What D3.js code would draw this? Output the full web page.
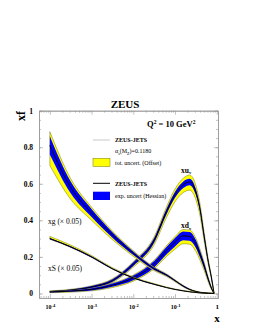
<!DOCTYPE html>
<html>
<head>
<meta charset="utf-8">
<script src="https://d3js.org/d3.v7.min.js"></script>
<style>
body { margin: 0; background: #fff; }
text { font-family: "Liberation Serif", "DejaVu Serif", serif; }
</style>
</head>
<body>
<script>
// x grid shared by all curves
var xs = [0.0001, 0.000316, 0.001, 0.00316, 0.01, 0.0316, 0.0631, 0.1, 0.158, 0.224, 0.316, 0.398, 0.501, 0.631, 0.741, 0.861];

// xu_v
var xuvMid   = [0.010, 0.018, 0.035, 0.070, 0.160, 0.290, 0.450, 0.540, 0.595, 0.610, 0.555, 0.460, 0.310, 0.170, 0.090, 0.000];
var xuvExp   = [0.003, 0.004, 0.005, 0.007, 0.010, 0.013, 0.015, 0.017, 0.018, 0.018, 0.017, 0.015, 0.012, 0.008, 0.005, 0.001];
var xuvTotLo = [0.004, 0.006, 0.008, 0.011, 0.016, 0.024, 0.032, 0.038, 0.043, 0.045, 0.042, 0.036, 0.026, 0.016, 0.009, 0.002];
var xuvTotHi = [0.004, 0.005, 0.007, 0.010, 0.014, 0.020, 0.026, 0.032, 0.036, 0.038, 0.036, 0.030, 0.022, 0.014, 0.008, 0.002];

// xd_v
var xdvMid   = [0.008, 0.013, 0.022, 0.045, 0.085, 0.160, 0.235, 0.280, 0.315, 0.312, 0.270, 0.215, 0.150, 0.075, 0.030, 0.000];
var xdvExp   = [0.003, 0.004, 0.006, 0.009, 0.013, 0.018, 0.021, 0.023, 0.024, 0.024, 0.022, 0.019, 0.015, 0.009, 0.005, 0.001];
var xdvTotLo = [0.004, 0.006, 0.008, 0.013, 0.018, 0.025, 0.032, 0.038, 0.043, 0.043, 0.040, 0.034, 0.026, 0.015, 0.008, 0.002];
var xdvTotHi = [0.004, 0.005, 0.007, 0.011, 0.016, 0.022, 0.027, 0.031, 0.035, 0.035, 0.032, 0.027, 0.020, 0.012, 0.006, 0.002];

// xg (x 0.05)
var xgMid   = [0.810, 0.580, 0.440, 0.320, 0.220, 0.135, 0.100, 0.070, 0.040, 0.022, 0.011, 0.006, 0.003, 0.001, 0.0005, 0];
var xgExp   = [0.050, 0.032, 0.022, 0.015, 0.010, 0.007, 0.005, 0.004, 0.003, 0.002, 0.0015, 0.001, 0.001, 0.0005, 0.0003, 0];
var xgTotLo = [0.110, 0.065, 0.040, 0.026, 0.017, 0.011, 0.008, 0.006, 0.005, 0.004, 0.003, 0.002, 0.0015, 0.001, 0.0005, 0];
var xgTotHi = [0.075, 0.048, 0.032, 0.021, 0.014, 0.009, 0.007, 0.005, 0.004, 0.003, 0.002, 0.0015, 0.001, 0.0007, 0.0004, 0];

// xS (x 0.05)
var xsMid   = [0.300, 0.255, 0.200, 0.135, 0.085, 0.050, 0.032, 0.022, 0.014, 0.009, 0.005, 0.003, 0.002, 0.001, 0.0003, 0];
var xsExp   = [0.004, 0.003, 0.003, 0.002, 0.002, 0.0015, 0.001, 0.001, 0.0008, 0.0006, 0.0004, 0.0003, 0.0002, 0.0001, 0, 0];
var xsTotLo = [0.004, 0.003, 0.003, 0.002, 0.002, 0.0015, 0.001, 0.001, 0.0008, 0.0006, 0.0004, 0.0003, 0.0002, 0.0001, 0, 0];
var xsTotHi = [0.012, 0.010, 0.008, 0.006, 0.005, 0.004, 0.003, 0.0025, 0.002, 0.0015, 0.001, 0.0008, 0.0005, 0.0003, 0.0001, 0];

var yTicks = [0, 0.2, 0.4, 0.6, 0.8, 1];
var xTicks = [1e-4, 1e-3, 1e-2, 1e-1, 1];
var xTickExp = ["-4", "-3", "-2", "-1", ""];

var width = 253, height = 327;
var L = 39, R = 218, T = 110.7, B = 298;

var x = d3.scaleLog().domain([Math.pow(10, -4.26), Math.pow(10, 0.03)]).range([L, R]);
var y = d3.scaleLinear().domain([-0.025, 1]).range([B, T]);

var svg = d3.select("body").append("svg")
    .attr("width", width)
    .attr("height", height);

var curves = [
  {mid: xuvMid, exp: xuvExp, lo: xuvTotLo, hi: xuvTotHi},
  {mid: xdvMid, exp: xdvExp, lo: xdvTotLo, hi: xdvTotHi},
  {mid: xgMid,  exp: xgExp,  lo: xgTotLo,  hi: xgTotHi},
  {mid: xsMid,  exp: xsExp,  lo: xsTotLo,  hi: xsTotHi}
];

var area = d3.area()
    .x(function(d) { return x(d.x); })
    .y0(function(d) { return y(d.y0); })
    .y1(function(d) { return y(d.y1); })
    .curve(d3.curveMonotoneX);

var line = d3.line()
    .x(function(d) { return x(d.x); })
    .y(function(d) { return y(d.y); })
    .curve(d3.curveMonotoneX);

var plot = svg.append("g");

curves.forEach(function(c) {
  var tot = xs.map(function(v, i) { return {x: v, y0: c.mid[i] - c.lo[i], y1: c.mid[i] + c.hi[i]}; });
  var exp = xs.map(function(v, i) { return {x: v, y0: c.mid[i] - c.exp[i], y1: c.mid[i] + c.exp[i]}; });
  var mid = xs.map(function(v, i) { return {x: v, y: c.mid[i]}; });

  plot.append("path").attr("d", area(tot))
      .attr("fill", "#ffff00").attr("stroke", "#555500").attr("stroke-width", 0.4);
  plot.append("path").attr("d", area(exp))
      .attr("fill", "#0000ff");
  plot.append("path").attr("d", line(mid))
      .attr("fill", "none").attr("stroke", "#000").attr("stroke-width", 1);
});

// frame and ticks
var frameCol = "#999";
function styleAxis(g) {
  g.selectAll("path").attr("stroke", frameCol).attr("stroke-width", 0.8);
  g.selectAll("line").attr("stroke", frameCol).attr("stroke-width", 0.6);
}

var yMinor = d3.range(0, 1.001, 0.05);
var xMinor = [];
[-5, -4, -3, -2, -1].forEach(function(e) {
  for (var k = 2; k <= 9; k++) {
    var v = k * Math.pow(10, e);
    if (v > x.domain()[0] && v < x.domain()[1]) xMinor.push(v);
  }
});

svg.append("g").attr("transform", "translate(" + L + ",0)")
   .call(d3.axisLeft(y).tickValues(yMinor).tickSize(-2).tickSizeOuter(0).tickFormat(""))
   .call(styleAxis);
svg.append("g").attr("transform", "translate(" + R + ",0)")
   .call(d3.axisRight(y).tickValues(yMinor).tickSize(-2).tickSizeOuter(0).tickFormat(""))
   .call(styleAxis);
svg.append("g").attr("transform", "translate(" + R + ",0)")
   .call(d3.axisRight(y).tickValues(yTicks).tickSize(-4).tickSizeOuter(0).tickFormat(""))
   .call(styleAxis);
svg.append("g").attr("transform", "translate(0," + B + ")")
   .call(d3.axisBottom(x).tickValues(xMinor).tickSize(-2).tickSizeOuter(0).tickFormat(""))
   .call(styleAxis);
svg.append("g").attr("transform", "translate(0," + T + ")")
   .call(d3.axisTop(x).tickValues(xMinor).tickSize(-2).tickSizeOuter(0).tickFormat(""))
   .call(styleAxis);
svg.append("g").attr("transform", "translate(0," + T + ")")
   .call(d3.axisTop(x).tickValues(xTicks).tickSize(-4).tickSizeOuter(0).tickFormat(""))
   .call(styleAxis);

var yAxis = svg.append("g").attr("transform", "translate(" + L + ",0)")
   .call(d3.axisLeft(y).tickValues(yTicks).tickSize(-4).tickSizeOuter(0).tickPadding(6)
         .tickFormat(function(d) { return d === 0 ? "0" : d === 1 ? "1" : d.toFixed(1); }))
   .call(styleAxis);
yAxis.selectAll("text").attr("fill", "#000").style("font-size", "7.5px").style("font-weight", "bold")
     .style("font-family", "Liberation Serif");

var xAxis = svg.append("g").attr("transform", "translate(0," + B + ")")
   .call(d3.axisBottom(x).tickValues(xTicks).tickSize(-4).tickSizeOuter(0).tickPadding(6).tickFormat(""))
   .call(styleAxis);
xAxis.selectAll(".tick").each(function(d, i) {
  var t = d3.select(this).append("text")
      .attr("y", 11).attr("text-anchor", "middle")
      .attr("fill", "#000").style("font-size", "6px").style("font-weight", "bold")
      .style("font-family", "Liberation Serif");
  if (xTickExp[i] === "") {
    t.attr("y", 11).style("font-size", "7px").text("1");
  } else {
    t.append("tspan").text("10");
    t.append("tspan").attr("dy", -2.5).style("font-size", "4.5px").text(xTickExp[i]);
  }
});

// titles
svg.append("text").attr("x", 125).attr("y", 108).attr("text-anchor", "middle")
   .style("font-size", "11px").style("font-weight", "bold").text("ZEUS");
svg.append("text").attr("transform", "translate(25,116) rotate(-90)").attr("text-anchor", "middle")
   .style("font-size", "12px").style("font-weight", "bold").text("xf");
svg.append("text").attr("x", 217).attr("y", 322).attr("text-anchor", "middle")
   .style("font-size", "11px").style("font-weight", "bold").text("x");

var q = svg.append("text").attr("x", 147).attr("y", 127)
   .style("font-size", "8.5px").style("font-weight", "bold");
q.append("tspan").text("Q");
q.append("tspan").attr("dy", -3.5).style("font-size", "5.5px").text("2");
q.append("tspan").attr("dy", 3.5).text(" = 10 GeV");
q.append("tspan").attr("dy", -3.5).style("font-size", "5.5px").text("2");

// legend
var lg = svg.append("g").style("font-size", "6px").style("font-weight", "bold");
lg.append("line").attr("x1", 93).attr("x2", 110).attr("y1", 140).attr("y2", 140)
  .attr("stroke", "#bbb").attr("stroke-width", 0.8);
lg.append("text").attr("x", 115).attr("y", 142).text("ZEUS-JETS");
var a = lg.append("text").attr("x", 115).attr("y", 153).style("font-weight", "normal");
a.append("tspan").text("\u03b1");
a.append("tspan").attr("dy", 1.5).style("font-size", "4px").text("s");
a.append("tspan").attr("dy", -1.5).text("(M");
a.append("tspan").attr("dy", 1.5).style("font-size", "4px").text("Z");
a.append("tspan").attr("dy", -1.5).text(")=0.1180");
lg.append("rect").attr("x", 93).attr("y", 158.3).attr("width", 17).attr("height", 8.3)
  .attr("fill", "#ffff00").attr("stroke", "#555500").attr("stroke-width", 0.4);
lg.append("text").attr("x", 115).attr("y", 164.5).style("font-weight", "normal").text("tot. uncert. (Offset)");
lg.append("line").attr("x1", 93).attr("x2", 110).attr("y1", 183.3).attr("y2", 183.3)
  .attr("stroke", "#000").attr("stroke-width", 1);
lg.append("text").attr("x", 115).attr("y", 185.5).text("ZEUS-JETS");
lg.append("rect").attr("x", 93).attr("y", 191.7).attr("width", 17).attr("height", 8.3)
  .attr("fill", "#0000ff");
lg.append("text").attr("x", 115).attr("y", 198).style("font-weight", "normal").text("exp. uncert (Hessian)");

// curve labels
var cl = svg.append("g").style("font-size", "7.5px");
cl.append("text").attr("x", 48).attr("y", 224).text("xg (\u00d7 0.05)");
cl.append("text").attr("x", 48).attr("y", 271).text("xS (\u00d7 0.05)");
var u = cl.append("text").attr("x", 181).attr("y", 172.5).style("font-weight", "bold");
u.append("tspan").text("xu");
u.append("tspan").attr("dy", 1.5).style("font-size", "4.5px").text("v");
var dd = cl.append("text").attr("x", 181).attr("y", 228).style("font-weight", "bold");
dd.append("tspan").text("xd");
dd.append("tspan").attr("dy", 1.5).style("font-size", "4.5px").text("v");
</script>
</body>
</html>
